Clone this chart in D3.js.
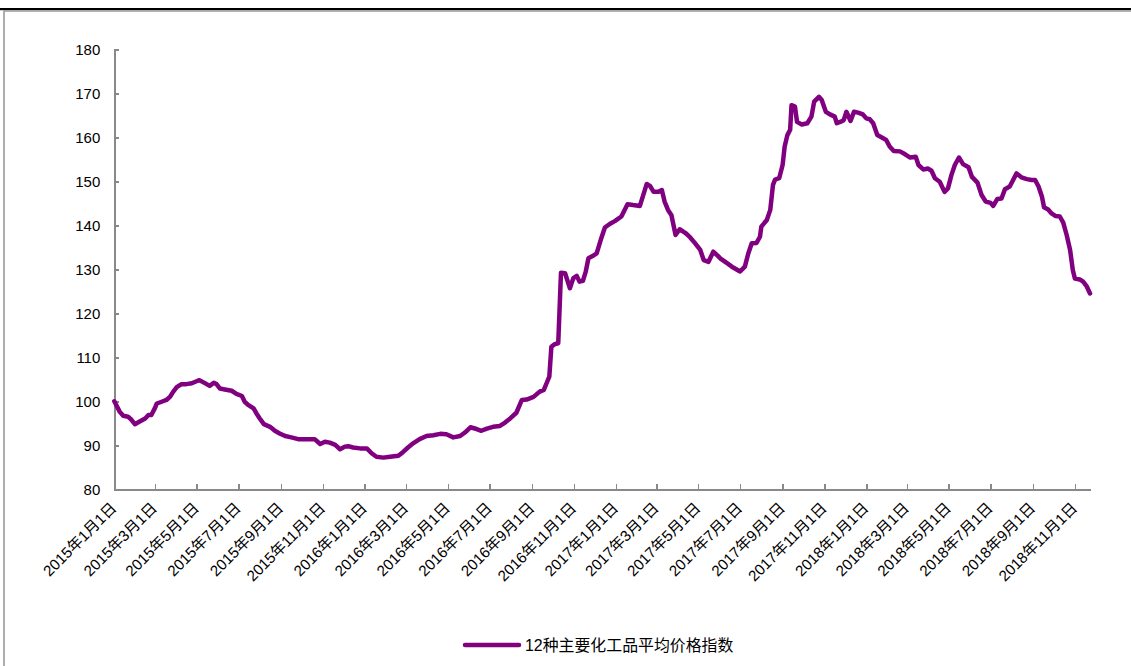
<!DOCTYPE html>
<html>
<head>
<meta charset="utf-8">
<script src="https://cdn.jsdelivr.net/npm/d3@7/dist/d3.min.js"></script>
<style>
  html, body { margin: 0; padding: 0; background: #fff; }
  svg { display: block; }
  .axis path, .axis line { stroke: #898989; stroke-width: 1.5; shape-rendering: crispEdges; }
  .axis text { fill: #000; font-family: "Liberation Sans", Arial, "Noto Sans CJK SC", sans-serif; }
</style>
</head>
<body>
<svg id="chart" width="1131" height="666"></svg>
<script>
// Series: 12种主要化工品平均价格指数 (2015-01-01 = 100)
const seriesName = "12种主要化工品平均价格指数";

const dates = [
  "2015-01-01","2015-01-05","2015-01-09","2015-01-14","2015-01-21","2015-01-26","2015-01-31","2015-02-07",
  "2015-02-15","2015-02-20","2015-02-24","2015-03-01","2015-03-04","2015-03-11","2015-03-18","2015-03-23",
  "2015-03-28","2015-04-02","2015-04-09","2015-04-16","2015-04-24","2015-04-30","2015-05-05","2015-05-11",
  "2015-05-20","2015-05-26","2015-05-30","2015-06-04","2015-06-11","2015-06-21","2015-06-28","2015-07-06",
  "2015-07-10","2015-07-15","2015-07-23","2015-07-27","2015-08-01","2015-08-07","2015-08-16","2015-08-23",
  "2015-08-30","2015-09-07","2015-09-16","2015-09-26","2015-10-03","2015-10-13","2015-10-20","2015-10-28",
  "2015-11-04","2015-11-11","2015-11-19","2015-11-26","2015-12-03","2015-12-08","2015-12-15","2015-12-25",
  "2016-01-04","2016-01-11","2016-01-18","2016-01-28","2016-02-07","2016-02-19","2016-02-26","2016-03-04",
  "2016-03-12","2016-03-21","2016-03-31","2016-04-10","2016-04-20","2016-04-29","2016-05-09","2016-05-19",
  "2016-05-26","2016-06-03","2016-06-12","2016-06-19","2016-06-27","2016-07-06","2016-07-16","2016-07-23",
  "2016-07-31","2016-08-09","2016-08-17","2016-08-24","2016-09-03","2016-09-12","2016-09-18","2016-09-22",
  "2016-09-26","2016-09-29","2016-10-04","2016-10-09","2016-10-13","2016-10-19","2016-10-26","2016-10-31",
  "2016-11-05","2016-11-09","2016-11-14","2016-11-18","2016-11-22","2016-11-28","2016-12-04","2016-12-10",
  "2016-12-16","2016-12-23","2016-12-31","2017-01-09","2017-01-18","2017-01-26","2017-02-05","2017-02-10",
  "2017-02-15","2017-02-20","2017-02-25","2017-03-04","2017-03-09","2017-03-13","2017-03-18","2017-03-23",
  "2017-03-29","2017-04-04","2017-04-12","2017-04-19","2017-04-26","2017-05-04","2017-05-09","2017-05-16",
  "2017-05-23","2017-05-30","2017-06-02","2017-06-11","2017-06-21","2017-07-01","2017-07-08","2017-07-13",
  "2017-07-18","2017-07-25","2017-07-30","2017-08-01","2017-08-09","2017-08-14","2017-08-18","2017-08-21",
  "2017-08-27","2017-09-01","2017-09-04","2017-09-08","2017-09-12","2017-09-14","2017-09-19","2017-09-22",
  "2017-09-29","2017-10-07","2017-10-13","2017-10-17","2017-10-24","2017-10-28","2017-11-03","2017-11-09",
  "2017-11-16","2017-11-19","2017-11-24","2017-11-29","2017-12-03","2017-12-09","2017-12-14","2017-12-20",
  "2017-12-27","2018-01-01","2018-01-06","2018-01-11","2018-01-17","2018-01-23","2018-01-30","2018-02-04",
  "2018-02-10","2018-02-19","2018-02-26","2018-03-06","2018-03-14","2018-03-18","2018-03-25","2018-04-01",
  "2018-04-06","2018-04-11","2018-04-18","2018-04-25","2018-04-30","2018-05-05","2018-05-10","2018-05-16",
  "2018-05-22","2018-05-30","2018-06-04","2018-06-12","2018-06-18","2018-06-24","2018-07-01","2018-07-05",
  "2018-07-11","2018-07-17","2018-07-22","2018-07-29","2018-08-08","2018-08-15","2018-08-23","2018-08-30",
  "2018-09-04","2018-09-09","2018-09-14","2018-09-17","2018-09-23","2018-09-28","2018-10-04","2018-10-10",
  "2018-10-15","2018-10-20","2018-10-25","2018-10-29","2018-11-01","2018-11-08","2018-11-13","2018-11-18",
  "2018-11-23"
];

const values = [
  100.0, 98.8, 97.6, 96.7, 96.5, 95.8, 94.8, 95.4,
  96.1, 96.9, 96.9, 98.4, 99.5, 99.9, 100.3, 101.0,
  102.2, 103.2, 103.9, 103.9, 104.1, 104.5, 104.8, 104.3,
  103.5, 104.2, 103.9, 102.9, 102.7, 102.4, 101.7, 101.2,
  99.9, 99.2, 98.4, 97.3, 96.1, 94.8, 94.2, 93.3,
  92.7, 92.1, 91.8, 91.4, 91.4, 91.4, 91.4, 90.3,
  90.8, 90.6, 90.1, 89.1, 89.7, 89.8, 89.5, 89.3,
  89.3, 88.2, 87.4, 87.2, 87.4, 87.6, 88.5, 89.5,
  90.5, 91.4, 92.1, 92.3, 92.6, 92.5, 91.8, 92.1,
  92.9, 94.1, 93.7, 93.3, 93.8, 94.2, 94.4, 95.1,
  96.1, 97.4, 100.3, 100.4, 101.0, 102.2, 102.6, 104.1,
  105.6, 112.4, 113.0, 113.2, 129.2, 129.1, 125.7, 128.0,
  128.5, 127.2, 127.4, 129.4, 132.5, 133.0, 133.6, 136.7,
  139.5, 140.3, 141.0, 142.0, 144.8, 144.6, 144.4, 146.9,
  149.4, 148.9, 147.6, 147.6, 148.0, 145.4, 143.5, 142.3,
  137.8, 139.1, 138.3, 137.3, 136.0, 134.4, 132.1, 131.7,
  134.0, 133.0, 132.5, 131.5, 130.4, 129.5, 130.6, 133.6,
  135.9, 136.0, 137.4, 139.7, 141.2, 143.5, 149.2, 150.4,
  150.7, 153.7, 157.9, 160.5, 161.7, 167.3, 167.0, 163.5,
  162.9, 163.2, 164.7, 168.1, 169.2, 168.5, 165.8, 165.2,
  164.7, 163.2, 163.5, 163.9, 165.8, 163.7, 165.8, 165.6,
  165.2, 164.3, 164.1, 163.2, 160.5, 160.0, 159.4, 157.9,
  156.9, 156.8, 156.2, 155.4, 155.6, 153.7, 152.7, 152.9,
  152.4, 150.7, 149.9, 147.6, 148.4, 151.4, 153.7, 155.4,
  153.9, 153.2, 151.0, 149.7, 146.9, 145.4, 145.1, 144.4,
  146.0, 146.1, 148.2, 148.8, 151.8, 150.9, 150.5, 150.3,
  150.3, 148.8, 146.5, 144.1, 143.6, 142.7, 142.1, 142.0,
  140.6, 137.8, 134.4, 129.8, 127.9, 127.7, 127.2, 126.2,
  124.5
];

const yTicks = [80, 90, 100, 110, 120, 130, 140, 150, 160, 170, 180];

const xTickLabels = [
  "2015年1月1日","2015年3月1日","2015年5月1日","2015年7月1日","2015年9月1日","2015年11月1日",
  "2016年1月1日","2016年3月1日","2016年5月1日","2016年7月1日","2016年9月1日","2016年11月1日",
  "2017年1月1日","2017年3月1日","2017年5月1日","2017年7月1日","2017年9月1日","2017年11月1日",
  "2018年1月1日","2018年3月1日","2018年5月1日","2018年7月1日","2018年9月1日","2018年11月1日"
];

const parseDay = d3.utcParse("%Y-%m-%d");
const parseLabel = s => {
  const m = s.match(/(\d+)年(\d+)月(\d+)日/);
  return new Date(Date.UTC(+m[1], +m[2] - 1, +m[3]));
};

const data = dates.map((d, i) => ({ date: parseDay(d), value: values[i] }));
const tickDates = xTickLabels.map(parseLabel);
const labelByTime = new Map(tickDates.map((d, i) => [d.getTime(), xTickLabels[i]]));

const svg = d3.select("#chart");
const W = 1131, H = 666;

// Frame: dark rule along the top, grey panel border beneath it
svg.append("rect").attr("x", 0).attr("y", 8).attr("width", W).attr("height", 2.2).attr("fill", "#000");
svg.append("path")
  .attr("d", `M4,${H + 2} V11 H${W + 2}`)
  .attr("fill", "none").attr("stroke", "#9a9a9a").attr("stroke-width", 1.6);

const x = d3.scaleUtc()
  .domain([parseDay("2015-01-01"), parseDay("2018-11-23")])
  .range([114.3, 1090]);

const y = d3.scaleLinear()
  .domain([80, 180])
  .range([489.3, 49.3]);

// Y axis, ticks pointing inward
const yAxis = svg.append("g")
  .attr("class", "axis")
  .attr("transform", `translate(${x.range()[0]},0)`)
  .call(d3.axisLeft(y).tickValues(yTicks).tickSizeInner(-5).tickSizeOuter(0).tickPadding(14).tickFormat(d3.format("d")));
yAxis.selectAll("text").attr("font-size", 15);

// X axis, ticks pointing inward, rotated date labels
const xAxis = svg.append("g")
  .attr("class", "axis")
  .attr("transform", `translate(0,${y.range()[0]})`)
  .call(d3.axisBottom(x).tickValues(tickDates).tickSizeInner(-5).tickSizeOuter(0)
    .tickFormat(d => labelByTime.get(d.getTime())));
xAxis.selectAll("text")
  .attr("font-size", 15.2)
  .attr("text-anchor", "end")
  .attr("x", 0).attr("y", 0)
  .attr("dy", "0.35em")
  .attr("transform", "translate(-1,16) rotate(-45)");

// Index line
const line = d3.line()
  .x(d => x(d.date))
  .y(d => y(d.value));

svg.append("path")
  .datum(data)
  .attr("d", line)
  .attr("fill", "none")
  .attr("stroke", "#800080")
  .attr("stroke-width", 4.5)
  .attr("stroke-linejoin", "round")
  .attr("stroke-linecap", "round");

// Legend
const legend = svg.append("g").attr("transform", "translate(465,645)");
legend.append("line")
  .attr("x1", 0).attr("x2", 54).attr("y1", 0).attr("y2", 0)
  .attr("stroke", "#800080").attr("stroke-width", 4.5).attr("stroke-linecap", "round");
legend.append("text")
  .attr("x", 60).attr("y", 0).attr("dy", "0.36em")
  .attr("font-size", 15.9)
  .attr("fill", "#000")
  .attr("font-family", "\"Liberation Sans\", Arial, \"Noto Sans CJK SC\", sans-serif")
  .text(seriesName);
</script>
</body>
</html>
